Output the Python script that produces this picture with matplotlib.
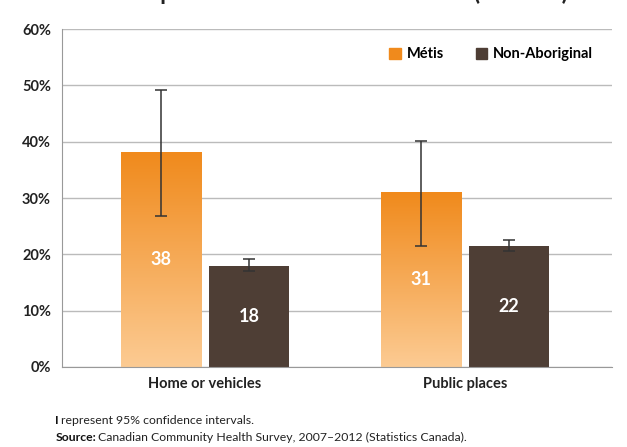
import numpy as np
import matplotlib.pyplot as plt
from matplotlib.colors import LinearSegmentedColormap
from matplotlib.patches import Patch

plt.rcParams['font.family'] = ['Lato', 'DejaVu Sans']

# data
categories = ["Home or vehicles", "Public places"]
metis = [38, 31]
metis_low = [26.8, 21.5]
metis_high = [49.2, 40.2]
non_ab = [18, 21.5]
non_ab_low = [17.0, 20.6]
non_ab_high = [19.1, 22.6]
metis_labels = ["38", "31"]
non_ab_labels = ["18", "22"]

orange_top = "#F08A1C"
orange_bottom = "#FCCB93"
brown = "#4E3E35"

fig = plt.figure(figsize=(6.27, 4.47), dpi=100)
ax = fig.add_axes([0.099, 0.179, 0.877, 0.756])

x = np.arange(len(categories))
width = 0.308
off = 0.169

cmap = LinearSegmentedColormap.from_list("or", [orange_bottom, orange_top])
grad = np.linspace(0, 1, 256).reshape(-1, 1)

for i in range(len(categories)):
    # Métis bar with vertical gradient
    x0 = x[i] - off - width / 2
    ax.imshow(grad, extent=[x0, x0 + width, 0, metis[i]], origin="lower",
              aspect="auto", cmap=cmap, zorder=2, interpolation="bilinear")
    ax.bar(x[i] + off, non_ab[i], width, color=brown, zorder=2)

    ax.errorbar(x[i] - off, metis[i],
                yerr=[[metis[i] - metis_low[i]], [metis_high[i] - metis[i]]],
                fmt="none", ecolor="#333333", elinewidth=1.1, capsize=4, capthick=1.1, zorder=3)
    ax.errorbar(x[i] + off, non_ab[i],
                yerr=[[non_ab[i] - non_ab_low[i]], [non_ab_high[i] - non_ab[i]]],
                fmt="none", ecolor="#333333", elinewidth=1.1, capsize=4, capthick=1.1, zorder=3)

    ax.text(x[i] - off, metis[i] / 2, metis_labels[i], color="white", fontsize=13,
            fontweight="bold", ha="center", va="center", zorder=4)
    ax.text(x[i] + off, non_ab[i] / 2, non_ab_labels[i], color="white", fontsize=13,
            fontweight="bold", ha="center", va="center", zorder=4)

ax.set_xlim(-0.55, 1.565)
ax.set_ylim(0, 60)
ax.set_yticks(range(0, 61, 10))
ax.set_yticklabels(["%d%%" % v for v in range(0, 61, 10)], fontsize=10.5, fontweight="bold",
                   color="#222222")
ax.set_xticks(x)
ax.set_xticklabels(categories, fontsize=10.5, fontweight="bold", color="#222222")
ax.tick_params(length=0, pad=8)
ax.tick_params(axis="x", pad=7)
ax.grid(axis="y", color="#BBBBBB", linewidth=1, zorder=0)
ax.set_axisbelow(True)
for s in ["top", "right"]:
    ax.spines[s].set_visible(False)
ax.spines["left"].set_color("#999999")
ax.spines["bottom"].set_color("#999999")

# legend
handles = [Patch(color=orange_top), Patch(color=brown)]
leg = ax.legend(handles, ["Métis", "Non-Aboriginal"], loc="upper right", ncol=2,
                bbox_to_anchor=(0.99, 0.985), frameon=False, handlelength=0.8,
                handleheight=0.8, handletextpad=0.4, columnspacing=2.2,
                prop={"weight": "bold", "size": 10.5})

# title, cut off at the top edge as in the source
fig.text(0.505, 1.017, "Youth exposed to second-hand smoke (Ontario)", ha="center",
         va="center", fontsize=17, fontweight="bold", color="#222222")

fig.text(0.088, 0.052, "I", fontsize=8.8, fontweight="bold", color="#111111")
fig.text(0.097, 0.052, "represent 95% confidence intervals.", fontsize=8.8, color="#222222")
fig.text(0.088, 0.014, "Source:", fontsize=8.8, fontweight="bold", color="#111111")
fig.text(0.157, 0.014, "Canadian Community Health Survey, 2007\u20132012 (Statistics Canada).",
         fontsize=8.8, color="#222222")

fig.savefig("out.png", dpi=100)
